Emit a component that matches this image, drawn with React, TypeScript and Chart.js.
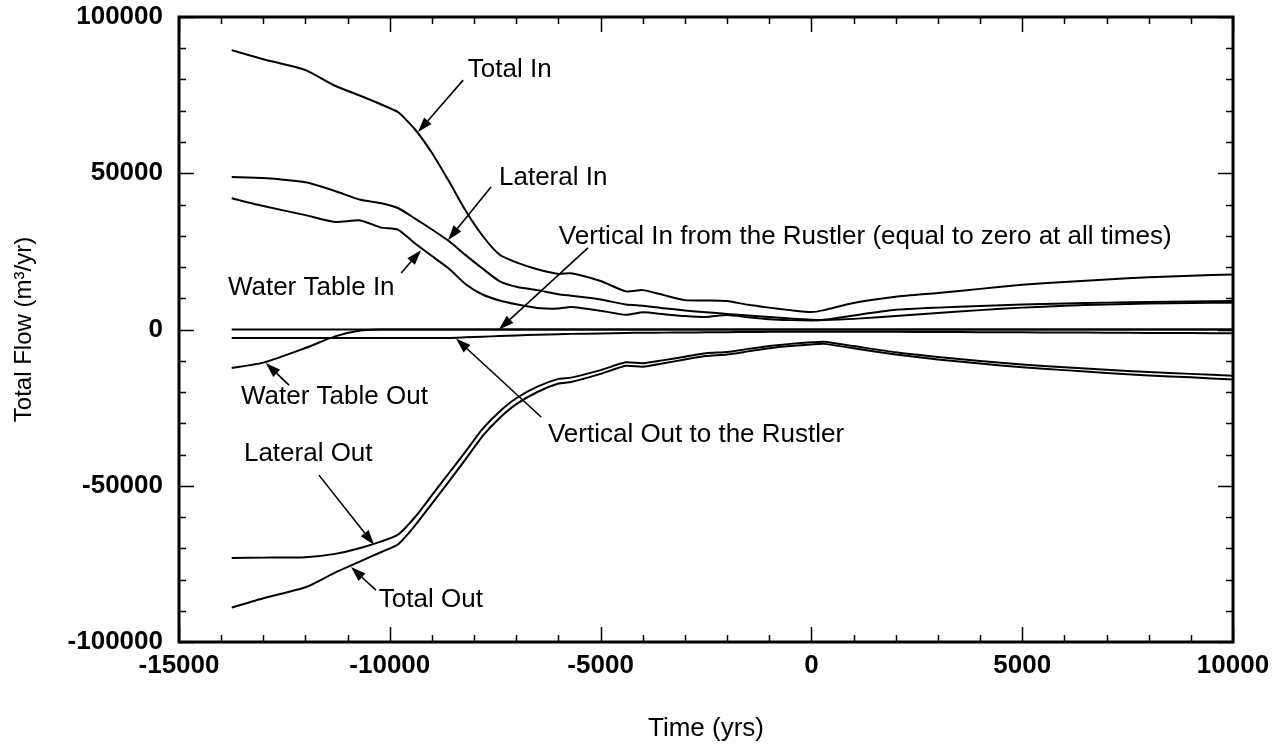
import React, { useEffect, useRef } from 'react';
import { Chart, registerables } from 'chart.js';

Chart.register(...registerables);

// Simulation times (years)
const TIME = [
  -13750, -13000, -12000, -11300, -10700, -10200, -9800, -9400, -9000, -8600,
  -8200, -7800, -7400, -7000, -6500, -6000, -5700, -5000, -4400, -4000,
  -3500, -3000, -2500, -2000, -1500, -1000, -500, 0, 300, 1000,
  2000, 3000, 4000, 5000, 6000, 7000, 8000, 9000, 10000,
];

// Flow budget terms (m3/yr)
const TOTAL_IN = [
  89400, 86500, 83000, 78000, 74800, 72000, 69500, 64000, 56500, 47500,
  38000, 30000, 24000, 21500, 19300, 17800, 18000, 15500, 12200, 12600,
  11000, 9400, 9300, 9100, 7900, 7000, 6200, 5600, 6200, 8500,
  10500, 11700, 13000, 14300, 15200, 16000, 16700, 17200, 17600,
];
const LATERAL_IN = [
  48800, 48500, 47100, 44300, 41500, 40400, 38800, 35500, 32000, 28300,
  23800, 19500, 15500, 13700, 12600, 11300, 10800, 9600, 8000, 7600,
  6800, 6100, 5500, 5000, 4500, 4000, 3500, 3100, 3100, 4500,
  6300, 7000, 7500, 8000, 8300, 8600, 8800, 9000, 9100,
];
const WATER_TABLE_IN = [
  42000, 39500, 36600, 34400, 34900, 32600, 31900, 27500, 23500, 19500,
  14500, 11200, 9300, 8100, 6900, 6700, 7200, 6000, 4700, 5500,
  4900, 4300, 4000, 4600, 3900, 3300, 3000, 2900, 3000, 3400,
  4300, 5300, 6200, 7000, 7600, 8000, 8300, 8500, 8600,
];
const VERTICAL_IN = [
  0, 0, 0, 0, 0, 0, 0, 0, 0, 0,
  0, 0, 0, 0, 0, 0, 0, 0, 0, 0,
  0, 0, 0, 0, 0, 0, 0, 0, 0, 0,
  0, 0, 0, 0, 0, 0, 0, 0, 0,
];
const VERTICAL_OUT = [
  -2700, -2700, -2700, -2700, -2700, -2700, -2700, -2700, -2700, -2700,
  -2500, -2300, -2100, -1900, -1700, -1500, -1400, -1250, -1100, -1050,
  -1000, -950, -900, -850, -800, -750, -700, -700, -700, -700,
  -750, -800, -850, -900, -950, -1000, -1100, -1150, -1200,
];
const WATER_TABLE_OUT = [
  -12300, -10600, -5900, -2200, -300, 0, 0, 0, 0, 0,
  0, 0, 0, 0, 0, 0, 0, 0, 0, 0,
  0, 0, 0, 0, 0, 0, 0, 0, 0, 0,
  0, 0, 0, 0, 0, 0, 0, 0, 0,
];
const LATERAL_OUT = [
  -73100, -73000, -72900, -71800, -69900, -67800, -65600, -60000, -53000, -46000,
  -39000, -31800, -26300, -22000, -18300, -15800, -15400, -13000, -10500, -10800,
  -9800, -8700, -7600, -7200, -6200, -5300, -4600, -4100, -3900, -5300,
  -7300, -8800, -10100, -11200, -12100, -12900, -13600, -14200, -14800,
];
const TOTAL_OUT = [
  -89000, -86000, -82500, -77800, -74200, -71200, -68700, -62700, -55700, -48700,
  -41500, -34100, -28400, -23900, -20000, -17300, -16800, -14200, -11600, -11900,
  -10800, -9600, -8500, -8000, -7000, -6000, -5300, -4800, -4600, -6000,
  -8000, -9600, -10900, -12100, -13000, -13900, -14700, -15300, -16000,
];

const SERIES_NAMES = [
  'Total In', 'Lateral In', 'Water Table In', 'Vertical In from the Rustler',
  'Vertical Out to the Rustler', 'Water Table Out', 'Lateral Out', 'Total Out',
];
const SERIES_VALUES = [
  TOTAL_IN, LATERAL_IN, WATER_TABLE_IN, VERTICAL_IN,
  VERTICAL_OUT, WATER_TABLE_OUT, LATERAL_OUT, TOTAL_OUT,
];

// Axis extents and tick spacing
const X_RANGE = [-15000, 10000];
const Y_RANGE = [-100000, 100000];
const X_MAJOR = 5000;
const X_MINOR = 1000;
const Y_MAJOR = 50000;
const Y_MINOR = 10000;

// Callout labels: text anchor, arrow tail and arrow head, in data units
const CALLOUTS = [
  { text: 'Total In', tx: -8150, ty: 83000, fx: -8260, fy: 79800, hx: -9330, hy: 63200 },
  { text: 'Lateral In', tx: -7410, ty: 48500, fx: -7600, fy: 45600, hx: -8620, hy: 28600 },
  { text: 'Water Table In', tx: -13840, ty: 13300, fx: -9730, fy: 18100, hx: -9260, hy: 25400 },
  { text: 'Vertical In from the Rustler (equal to zero at all times)', tx: -5990, ty: 29600, fx: -5300, fy: 26100, hx: -7410, hy: 0 },
  { text: 'Water Table Out', tx: -13530, ty: -21600, fx: -12390, fy: -17800, hx: -12940, hy: -10700 },
  { text: 'Vertical Out to the Rustler', tx: -6250, ty: -33800, fx: -6410, fy: -28000, hx: -8430, hy: -2900 },
  { text: 'Lateral Out', tx: -13460, ty: -39800, fx: -11680, fy: -46600, hx: -10375, hy: -68900 },
  { text: 'Total Out', tx: -10260, ty: -86600, fx: -10330, fy: -83400, hx: -10920, hy: -76000 },
];

const FONT = '"Liberation Sans", Arial, Helvetica, sans-serif';

const framePlugin = {
  id: 'frameAndCallouts',
  afterDatasetsDraw(chart: any) {
    const { ctx, chartArea: a, scales } = chart;
    const xs = scales.x;
    const ys = scales.y;
    ctx.save();
    ctx.strokeStyle = '#000';
    ctx.fillStyle = '#000';

    // inward tick marks on all four sides
    ctx.lineWidth = 1.5;
    ctx.beginPath();
    for (let v = X_RANGE[0]; v <= X_RANGE[1]; v += X_MINOR) {
      const px = Math.round(xs.getPixelForValue(v)) + 0.5;
      const len = v % X_MAJOR === 0 ? 15 : 7;
      ctx.moveTo(px, a.bottom);
      ctx.lineTo(px, a.bottom - len);
      ctx.moveTo(px, a.top);
      ctx.lineTo(px, a.top + len);
    }
    for (let v = Y_RANGE[0]; v <= Y_RANGE[1]; v += Y_MINOR) {
      const py = Math.round(ys.getPixelForValue(v)) + 0.5;
      const len = v % Y_MAJOR === 0 ? 15 : 7;
      ctx.moveTo(a.left, py);
      ctx.lineTo(a.left + len, py);
      ctx.moveTo(a.right, py);
      ctx.lineTo(a.right - len, py);
    }
    ctx.stroke();

    // plot frame
    ctx.lineWidth = 3;
    ctx.strokeRect(a.left, a.top, a.right - a.left, a.bottom - a.top);

    // callouts
    ctx.font = `26px ${FONT}`;
    ctx.textAlign = 'left';
    ctx.textBaseline = 'middle';
    for (const c of CALLOUTS) {
      ctx.fillText(c.text, xs.getPixelForValue(c.tx), ys.getPixelForValue(c.ty));
      const x0 = xs.getPixelForValue(c.fx);
      const y0 = ys.getPixelForValue(c.fy);
      const x1 = xs.getPixelForValue(c.hx);
      const y1 = ys.getPixelForValue(c.hy);
      const ang = Math.atan2(y1 - y0, x1 - x0);
      const headLen = 15;
      const headHalf = 5;
      const bx = x1 - headLen * Math.cos(ang);
      const by = y1 - headLen * Math.sin(ang);
      ctx.lineWidth = 1.6;
      ctx.beginPath();
      ctx.moveTo(x0, y0);
      ctx.lineTo(bx, by);
      ctx.stroke();
      ctx.beginPath();
      ctx.moveTo(x1, y1);
      ctx.lineTo(bx + headHalf * Math.sin(ang), by - headHalf * Math.cos(ang));
      ctx.lineTo(bx - headHalf * Math.sin(ang), by + headHalf * Math.cos(ang));
      ctx.closePath();
      ctx.fill();
    }
    ctx.restore();
  },
};

export default function App() {
  const canvasRef = useRef<HTMLCanvasElement | null>(null);

  useEffect(() => {
    const canvas = canvasRef.current;
    if (!canvas) return;
    const datasets = SERIES_NAMES.map((name, i) => ({
      label: name,
      data: TIME.map((t, k) => ({ x: t, y: SERIES_VALUES[i][k] })),
      borderColor: '#000',
      backgroundColor: '#000',
      borderWidth: 2,
      pointRadius: 0,
      tension: 0.2,
      fill: false,
    }));

    const chart = new Chart(canvas, {
      type: 'line',
      data: { datasets },
      options: {
        animation: false,
        responsive: true,
        maintainAspectRatio: false,
        layout: { padding: { left: 0, top: 17, right: 45, bottom: 0 } },
        plugins: {
          legend: { display: false },
          tooltip: { enabled: false },
        },
        scales: {
          x: {
            type: 'linear',
            min: X_RANGE[0],
            max: X_RANGE[1],
            grid: { display: false, drawTicks: false },
            border: { display: false },
            ticks: {
              stepSize: X_MAJOR,
              color: '#000',
              padding: 8,
              maxRotation: 0,
              font: { family: FONT, size: 26, weight: 'bold' },
              callback: (v: any) => String(v),
            },
            title: {
              display: true,
              text: 'Time (yrs)',
              color: '#000',
              font: { family: FONT, size: 26 },
              padding: { top: 0, bottom: 4 },
            },
            afterFit: (s: any) => {
              s.height = 106;
              s.paddingLeft = 0;
              s.paddingRight = 0;
            },
          },
          y: {
            type: 'linear',
            min: Y_RANGE[0],
            max: Y_RANGE[1],
            grid: { display: false, drawTicks: false },
            border: { display: false },
            ticks: {
              stepSize: Y_MAJOR,
              color: '#000',
              padding: 16,
              font: { family: FONT, size: 26, weight: 'bold' },
              callback: (v: any) => String(v),
            },
            title: {
              display: true,
              text: 'Total Flow (m³/yr)',
              color: '#000',
              font: { family: FONT, size: 24 },
              padding: { top: 10, bottom: 0 },
            },
            afterFit: (s: any) => {
              s.width = 179;
              s.paddingTop = 0;
              s.paddingBottom = 0;
            },
          },
        },
      },
      plugins: [framePlugin],
    });
    return () => chart.destroy();
  }, []);

  return (
    <div style={{ position: 'absolute', left: 0, top: 0, width: 1278, height: 748, background: '#fff' }}>
      <canvas ref={canvasRef} />
    </div>
  );
}
